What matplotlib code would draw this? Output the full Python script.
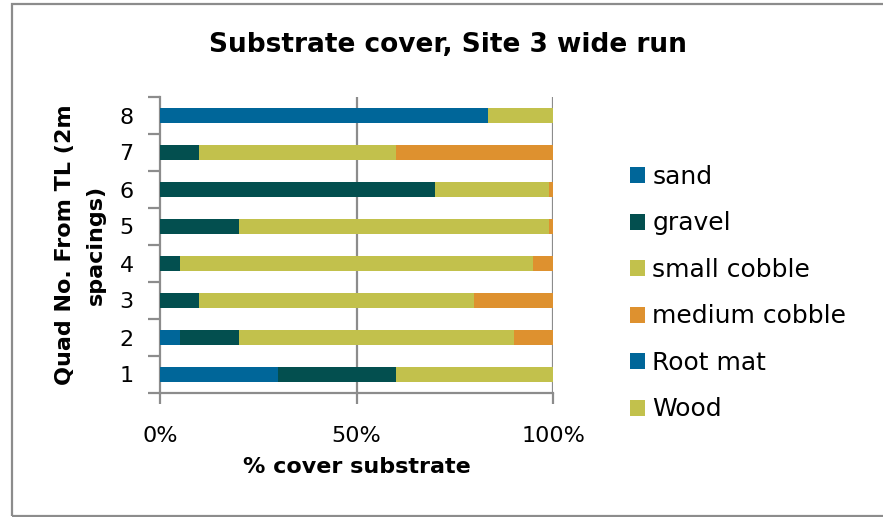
import numpy as np
import matplotlib.pyplot as plt
from matplotlib.patches import Rectangle

plt.rcParams['font.family'] = ['DejaVu Sans']

# Quadrat numbers (1 = nearest the transect line)
quads = ['1', '2', '3', '4', '5', '6', '7', '8']

# % cover of each substrate type per quadrat
sand = [30, 5, 0, 0, 0, 0, 0, 66.7]
gravel = [30, 15, 10, 5, 20, 70, 10, 0]
small_cobble = [40, 70, 70, 90, 79, 29, 50, 0]
medium_cobble = [0, 10, 20, 5, 1, 1, 40, 0]
root_mat = [0, 0, 0, 0, 0, 0, 0, 16.7]
wood = [0, 0, 0, 0, 0, 0, 0, 16.6]

series = [
    ('sand', sand, '#006699'),
    ('gravel', gravel, '#034F4F'),
    ('small cobble', small_cobble, '#C2C14C'),
    ('medium cobble', medium_cobble, '#DE912F'),
    ('Root mat', root_mat, '#006699'),
    ('Wood', wood, '#C2C14C'),
]

fig = plt.figure(figsize=(8.83, 5.17), dpi=100)
ax = fig.add_axes([160 / 883, 1 - 393 / 517, 393 / 883, 296 / 517])

y = np.arange(len(quads))
left = np.zeros(len(quads))
for name, vals, color in series:
    vals = np.array(vals, dtype=float)
    ax.barh(y, vals, left=left, height=0.42, color=color, label=name, zorder=3)
    left += vals

ax.set_xlim(0, 100)
ax.set_ylim(-0.5, len(quads) - 0.5)

grid_col = '#8C8C8C'
ax.set_xticks([0, 50, 100])
ax.set_xticklabels(['0%', '50%', '100%'])
for xv in [50, 100]:
    ax.axvline(xv, color=grid_col, lw=1.6, zorder=1)

ax.set_yticks(y)
ax.set_yticklabels(quads)
ax.set_yticks(np.arange(-0.5, len(quads)), minor=True)
ax.tick_params(axis='y', which='major', length=0, pad=19, labelsize=16)
ax.tick_params(axis='y', which='minor', length=9, width=1.6, color=grid_col)
ax.tick_params(axis='x', length=8, width=1.6, color=grid_col, pad=16, labelsize=16)

for side in ['top', 'right']:
    ax.spines[side].set_visible(False)
for side in ['left', 'bottom']:
    ax.spines[side].set_color(grid_col)
    ax.spines[side].set_linewidth(1.6)

ax.set_xlabel('% cover substrate', fontsize=16, fontweight='bold', labelpad=8)
ax.set_ylabel('Quad No. From TL (2m\nspacings)', fontsize=16, fontweight='bold',
              labelpad=10, linespacing=1.65)

fig.text(0.507, 0.913, 'Substrate cover, Site 3 wide run', ha='center', va='center',
         fontsize=19, fontweight='bold')

ax.legend(loc='center left', bbox_to_anchor=(1.17, 0.337),
          bbox_transform=ax.transAxes, frameon=False, fontsize=18,
          handlelength=0.6, handleheight=0.6, handletextpad=0.3, labelspacing=0.9,
          borderaxespad=0)

# chart border
fig.patches.append(Rectangle((12 / 883, 1.5 / 517), 1.0, 1 - 5 / 517, transform=fig.transFigure,
                             fill=False, edgecolor='#8C8C8C', lw=1.6))

fig.savefig('out.png', dpi=100)
